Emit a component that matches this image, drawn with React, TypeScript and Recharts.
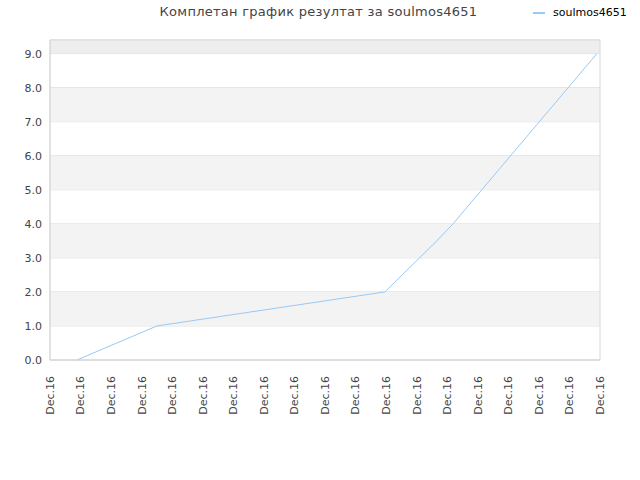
import {
  CartesianGrid,
  Line,
  LineChart,
  ReferenceArea,
  XAxis,
  YAxis,
} from 'recharts'

// positions along the time axis (tick units) and the score at each
const times = [0.88, 3.5, 10.96, 12.66, 13.19, 17.9]
const scores = [0, 1, 2, 3.5, 4, 9]

const xTicks = [0, 1, 2, 3, 4, 5, 6, 7, 8, 9, 10, 11, 12, 13, 14, 15, 16, 17, 18]
const xLabel = 'Dec.16'
const yTicks = [0, 1, 2, 3, 4, 5, 6, 7, 8, 9]
const shadedBands = [
  [1, 2],
  [3, 4],
  [5, 6],
  [7, 8],
]

const title = 'Комплетан график резултат за soulmos4651'
const seriesName = 'soulmos4651'

const data = times.map((t, i) => ({ t, score: scores[i] }))

function DateTick(props: any) {
  const { x, y } = props
  return (
    <g transform={`translate(${x},${y})`}>
      <text
        transform="rotate(-90)"
        x={-8}
        dy="0.35em"
        textAnchor="end"
        fontSize={11}
        fill="#444"
        fontFamily="DejaVu Sans"
      >
        {xLabel}
      </text>
    </g>
  )
}

export default function App() {
  return (
    <div
      style={{
        position: 'absolute',
        left: 0,
        top: 0,
        width: 640,
        height: 480,
        background: '#fff',
        fontFamily: 'DejaVu Sans',
      }}
    >
      <div
        style={{
          position: 'absolute',
          top: 4,
          left: 0,
          width: 637,
          textAlign: 'center',
          fontSize: 13,
          color: '#444',
          letterSpacing: 0.27,
        }}
      >
        {title}
      </div>
      <div
        style={{
          position: 'absolute',
          top: 6,
          left: 533,
          display: 'flex',
          alignItems: 'center',
          fontSize: 11,
          color: '#000',
        }}
      >
        <span
          style={{
            display: 'inline-block',
            width: 12,
            height: 2,
            background: '#99c9f5',
            marginRight: 8,
          }}
        />
        {seriesName}
      </div>
      <LineChart
        width={640}
        height={480}
        data={data}
        margin={{ top: 40, right: 40, left: 0, bottom: 0 }}
      >
        <ReferenceArea y1={9} y2={9.4} fill="#eeeeee" fillOpacity={1} stroke="none" />
        {shadedBands.map(([a, b]) => (
          <ReferenceArea
            key={a}
            y1={a}
            y2={b}
            fill="#f3f3f3"
            fillOpacity={1}
            stroke="none"
          />
        ))}
        <CartesianGrid vertical={false} stroke="#dddddd" />
        <XAxis
          type="number"
          dataKey="t"
          domain={[0, 18]}
          ticks={xTicks}
          interval={0}
          height={120}
          tick={<DateTick />}
          tickLine={false}
          axisLine={{ stroke: '#d8d8d8' }}
        />
        <YAxis
          type="number"
          domain={[0, 9.4]}
          ticks={yTicks}
          width={50}
          tickFormatter={(v) => v.toFixed(1)}
          tick={{ fontSize: 11, fill: '#444', fontFamily: 'DejaVu Sans' }}
          tickLine={false}
          axisLine={{ stroke: '#d8d8d8' }}
        />
        <ReferenceArea
          x1={0}
          x2={18}
          y1={0}
          y2={9.4}
          fill="none"
          stroke="#d8d8d8"
          ifOverflow="visible"
        />
        <Line
          type="linear"
          dataKey="score"
          stroke="#99c9f5"
          strokeWidth={1}
          dot={false}
          isAnimationActive={false}
        />
      </LineChart>
    </div>
  )
}
